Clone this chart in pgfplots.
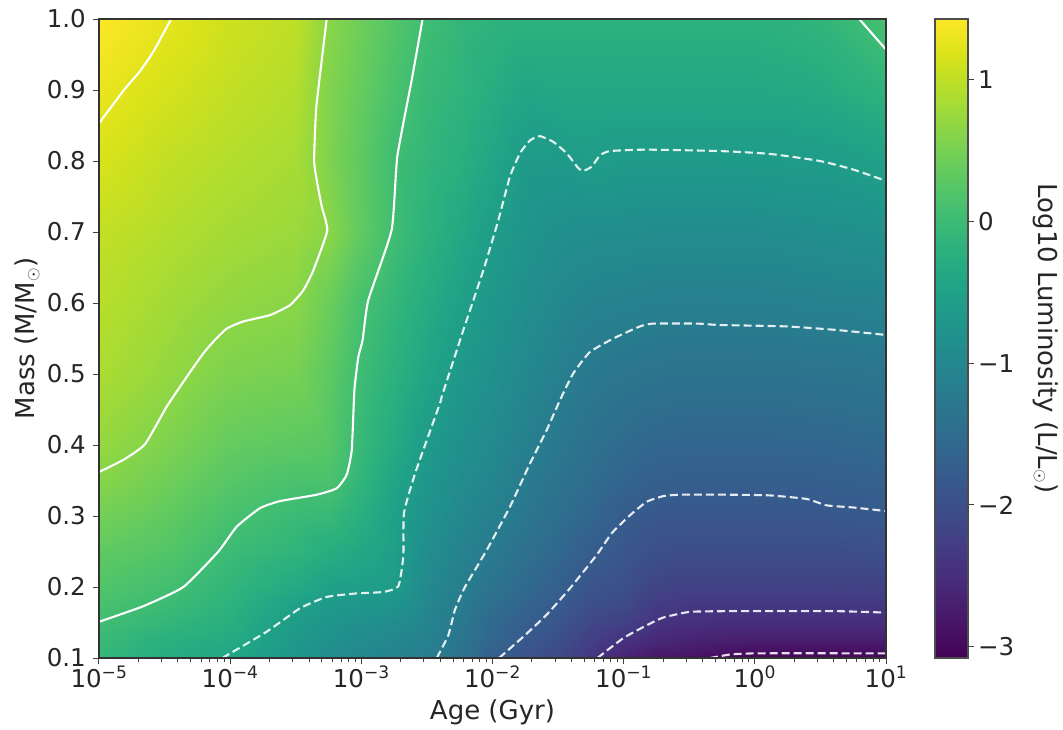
\documentclass[border=0pt]{standalone}
\usepackage{fontspec}
\setmainfont{DejaVu Sans}
\usepackage{pgfplots}
\pgfplotsset{compat=1.18}
\pgfplotsset{
  solidc/.style={white,line width=2.1pt,solid,line join=round,smooth,tension=0.3},
  dashc/.style={white,line width=2.1pt,dash pattern=on 8pt off 4pt,line join=round,smooth,tension=0.3,opacity=0.88},
}
\begin{document}
\begin{tikzpicture}
\useasboundingbox (-99pt,-71pt) rectangle (964pt,658pt);
\begin{axis}[
  at={(0pt,0pt)},anchor=south west,
  scale only axis,width=787pt,height=639pt,
  xmin=-5,xmax=1,ymin=0.1,ymax=1,
  axis on top,
  axis line style={line width=1.1pt,black!80},
  tick align=outside,
  xtick pos=bottom,ytick pos=left,
  major tick length=6pt,minor tick length=3.5pt,
  every tick/.style={line width=1pt,black!75},
  xtick={-5,-4,-3,-2,-1,0,1},
  xticklabels={10\textsuperscript{−5},10\textsuperscript{−4},10\textsuperscript{−3},10\textsuperscript{−2},10\textsuperscript{−1},10\textsuperscript{0},10\textsuperscript{1}},
  minor xtick={-4.699,-4.523,-4.398,-4.301,-4.222,-4.155,-4.097,-4.046,
    -3.699,-3.523,-3.398,-3.301,-3.222,-3.155,-3.097,-3.046,
    -2.699,-2.523,-2.398,-2.301,-2.222,-2.155,-2.097,-2.046,
    -1.699,-1.523,-1.398,-1.301,-1.222,-1.155,-1.097,-1.046,
    -0.699,-0.523,-0.398,-0.301,-0.222,-0.155,-0.097,-0.046,
    0.301,0.477,0.602,0.699,0.778,0.845,0.903,0.954},
  ytick={0.1,0.2,0.3,0.4,0.5,0.6,0.7,0.8,0.9,1},
  yticklabels={0.1,0.2,0.3,0.4,0.5,0.6,0.7,0.8,0.9,1.0},
  ticklabel style={font=\fontsize{24.5}{28}\selectfont,text=black!85},
  xticklabel style={inner sep=1pt,yshift=-1pt},
  yticklabel style={inner sep=2pt,xshift=-5pt},
  xlabel={Age (Gyr)},
  ylabel={Mass (M/M$_\odot$)},
  every axis x label/.style={at={(axis description cs:0.5,0)},anchor=north,yshift=-38pt,font=\fontsize{26}{30}\selectfont,text=black!85},
  every axis y label/.style={at={(axis description cs:0,0.5)},rotate=90,anchor=south,yshift=56pt,font=\fontsize{26}{30}\selectfont,text=black!85},
  colormap/viridis,
  point meta min=-3.08,point meta max=1.43,
]
\addplot[surf,shader=interp,mesh/cols=19,point meta=explicit] coordinates {
(-5,0.1)[-.1] (-4.5,0.1)[-.3] (-4,0.1)[-.42] (-3.5,0.1)[-.72] (-3.25,0.1)[-.88] (-3,0.1)[-1.0] (-2.75,0.1)[-1.08] (-2.5,0.1)[-1.17] (-2.25,0.1)[-1.4] (-2,0.1)[-1.72] (-1.75,0.1)[-1.95] (-1.5,0.1)[-2.1] (-1.25,0.1)[-2.38] (-1,0.1)[-2.65] (-0.75,0.1)[-2.85] (-0.5,0.1)[-2.92] (0,0.1)[-3.08] (0.5,0.1)[-3.05] (1,0.1)[-3.0]
(-5,0.107)[-.07] (-4.5,0.107)[-.28] (-4,0.107)[-.4] (-3.5,0.107)[-.7] (-3.25,0.107)[-.86] (-3,0.107)[-.98] (-2.75,0.107)[-1.06] (-2.5,0.107)[-1.15] (-2.25,0.107)[-1.37] (-2,0.107)[-1.68] (-1.75,0.107)[-1.92] (-1.5,0.107)[-2.07] (-1.25,0.107)[-2.33] (-1,0.107)[-2.58] (-0.75,0.107)[-2.75] (-0.5,0.107)[-2.8] (0,0.107)[-2.95] (0.5,0.107)[-2.95] (1,0.107)[-2.95]
(-5,0.125)[-.02] (-4.5,0.125)[-.22] (-4,0.125)[-.33] (-3.5,0.125)[-.66] (-3.25,0.125)[-.8] (-3,0.125)[-.92] (-2.75,0.125)[-1.0] (-2.5,0.125)[-1.1] (-2.25,0.125)[-1.32] (-2,0.125)[-1.6] (-1.75,0.125)[-1.82] (-1.5,0.125)[-2.0] (-1.25,0.125)[-2.25] (-1,0.125)[-2.42] (-0.75,0.125)[-2.57] (-0.5,0.125)[-2.65] (0,0.125)[-2.72] (0.5,0.125)[-2.72] (1,0.125)[-2.72]
(-5,0.15)[.05] (-4.5,0.15)[-.1] (-4,0.15)[-.25] (-3.5,0.15)[-.62] (-3.25,0.15)[-.72] (-3,0.15)[-.82] (-2.75,0.15)[-.9] (-2.5,0.15)[-1.05] (-2.25,0.15)[-1.27] (-2,0.15)[-1.55] (-1.75,0.15)[-1.72] (-1.5,0.15)[-1.9] (-1.25,0.15)[-2.13] (-1,0.15)[-2.23] (-0.75,0.15)[-2.42] (-0.5,0.15)[-2.47] (0,0.15)[-2.5] (0.5,0.15)[-2.5] (1,0.15)[-2.5]
(-5,0.175)[.12] (-4.5,0.175)[0] (-4,0.175)[-.18] (-3.5,0.175)[-.52] (-3.25,0.175)[-.64] (-3,0.175)[-.7] (-2.75,0.175)[-.75] (-2.5,0.175)[-1.0] (-2.25,0.175)[-1.22] (-2,0.175)[-1.45] (-1.75,0.175)[-1.62] (-1.5,0.175)[-1.8] (-1.25,0.175)[-2.02] (-1,0.175)[-2.08] (-0.75,0.175)[-2.3] (-0.5,0.175)[-2.35] (0,0.175)[-2.35] (0.5,0.175)[-2.35] (1,0.175)[-2.35]
(-5,0.2)[.2] (-4.5,0.2)[.08] (-4,0.2)[-.12] (-3.5,0.2)[-.35] (-3.25,0.2)[-.52] (-3,0.2)[-.56] (-2.75,0.2)[-.6] (-2.5,0.2)[-.95] (-2.25,0.2)[-1.15] (-2,0.2)[-1.37] (-1.75,0.2)[-1.55] (-1.5,0.2)[-1.72] (-1.25,0.2)[-1.92] (-1,0.2)[-2.0] (-0.75,0.2)[-2.17] (-0.5,0.2)[-2.22] (0,0.2)[-2.22] (0.5,0.2)[-2.22] (1,0.2)[-2.2]
(-5,0.25)[.32] (-4.5,0.25)[.22] (-4,0.25)[0] (-3.5,0.25)[-.14] (-3.25,0.25)[-.28] (-3,0.25)[-.4] (-2.75,0.25)[-.55] (-2.5,0.25)[-.88] (-2.25,0.25)[-1.07] (-2,0.25)[-1.24] (-1.75,0.25)[-1.42] (-1.5,0.25)[-1.58] (-1.25,0.25)[-1.76] (-1,0.25)[-1.88] (-0.75,0.25)[-2.0] (-0.5,0.25)[-2.03] (0,0.25)[-2.03] (0.5,0.25)[-2.03] (1,0.25)[-2.0]
(-5,0.3)[.47] (-4.5,0.3)[.33] (-4,0.3)[.12] (-3.5,0.3)[-.02] (-3.25,0.3)[-.05] (-3,0.3)[-.26] (-2.75,0.3)[-.52] (-2.5,0.3)[-.78] (-2.25,0.3)[-.98] (-2,0.3)[-1.12] (-1.75,0.3)[-1.3] (-1.5,0.3)[-1.46] (-1.25,0.3)[-1.6] (-1,0.3)[-1.78] (-0.75,0.3)[-1.86] (-0.5,0.3)[-1.88] (0,0.3)[-1.88] (0.5,0.3)[-1.87] (1,0.3)[-1.82]
(-5,0.35)[.62] (-4.5,0.35)[.45] (-4,0.35)[.25] (-3.5,0.35)[.14] (-3.25,0.35)[.15] (-3,0.35)[-.12] (-2.75,0.35)[-.44] (-2.5,0.35)[-.7] (-2.25,0.35)[-.9] (-2,0.35)[-1.02] (-1.75,0.35)[-1.22] (-1.5,0.35)[-1.37] (-1.25,0.35)[-1.5] (-1,0.35)[-1.63] (-0.75,0.35)[-1.72] (-0.5,0.35)[-1.74] (0,0.35)[-1.74] (0.5,0.35)[-1.73] (1,0.35)[-1.68]
(-5,0.4)[.72] (-4.5,0.4)[.56] (-4,0.4)[.36] (-3.5,0.4)[.3] (-3.25,0.4)[.25] (-3,0.4)[-.05] (-2.75,0.4)[-.33] (-2.5,0.4)[-.62] (-2.25,0.4)[-.82] (-2,0.4)[-.95] (-1.75,0.4)[-1.12] (-1.5,0.4)[-1.28] (-1.25,0.4)[-1.42] (-1,0.4)[-1.52] (-0.75,0.4)[-1.6] (-0.5,0.4)[-1.62] (0,0.4)[-1.62] (0.5,0.4)[-1.6] (1,0.4)[-1.55]
(-5,0.5)[.87] (-4.5,0.5)[.72] (-4,0.5)[.55] (-3.5,0.5)[.5] (-3.25,0.5)[.3] (-3,0.5)[.02] (-2.75,0.5)[-.2] (-2.5,0.5)[-.44] (-2.25,0.5)[-.67] (-2,0.5)[-.82] (-1.75,0.5)[-.98] (-1.5,0.5)[-1.12] (-1.25,0.5)[-1.26] (-1,0.5)[-1.32] (-0.75,0.5)[-1.36] (-0.5,0.5)[-1.38] (0,0.5)[-1.38] (0.5,0.5)[-1.36] (1,0.5)[-1.33]
(-5,0.6)[.95] (-4.5,0.6)[.82] (-4,0.6)[.7] (-3.5,0.6)[.64] (-3.25,0.6)[.41] (-3,0.6)[.11] (-2.75,0.6)[-.09] (-2.5,0.6)[-.31] (-2.25,0.6)[-.52] (-2,0.6)[-.7] (-1.75,0.6)[-.85] (-1.5,0.6)[-.98] (-1.25,0.6)[-1.07] (-1,0.6)[-1.1] (-0.75,0.6)[-1.13] (-0.5,0.6)[-1.14] (0,0.6)[-1.13] (0.5,0.6)[-1.1] (1,0.6)[-1.07]
(-5,0.7)[1.03] (-4.5,0.7)[.92] (-4,0.7)[.82] (-3.5,0.7)[.76] (-3.25,0.7)[.64] (-3,0.7)[.33] (-2.75,0.7)[.04] (-2.5,0.7)[-.17] (-2.25,0.7)[-.37] (-2,0.7)[-.58] (-1.75,0.7)[-.74] (-1.5,0.7)[-.83] (-1.25,0.7)[-.87] (-1,0.7)[-.88] (-0.75,0.7)[-.9] (-0.5,0.7)[-.9] (0,0.7)[-.9] (0.5,0.7)[-.85] (1,0.7)[-.8]
(-5,0.8)[1.17] (-4.5,0.8)[1.02] (-4,0.8)[.92] (-3.5,0.8)[.84] (-3.25,0.8)[.56] (-3,0.8)[.31] (-2.75,0.8)[.03] (-2.5,0.8)[-.11] (-2.25,0.8)[-.24] (-2,0.8)[-.42] (-1.75,0.8)[-.63] (-1.5,0.8)[-.64] (-1.25,0.8)[-.58] (-1,0.8)[-.63] (-0.75,0.8)[-.63] (-0.5,0.8)[-.63] (0,0.8)[-.62] (0.5,0.8)[-.6] (1,0.8)[-.5]
(-5,0.9)[1.3] (-4.5,0.9)[1.15] (-4,0.9)[1.02] (-3.5,0.9)[.92] (-3.25,0.9)[.57] (-3,0.9)[.37] (-2.75,0.9)[.14] (-2.5,0.9)[-.05] (-2.25,0.9)[-.14] (-2,0.9)[-.28] (-1.75,0.9)[-.42] (-1.5,0.9)[-.38] (-1.25,0.9)[-.38] (-1,0.9)[-.38] (-0.75,0.9)[-.38] (-0.5,0.9)[-.38] (0,0.9)[-.38] (0.5,0.9)[-.33] (1,0.9)[-.15]
(-5,1)[1.43] (-4.5,1)[1.27] (-4,1)[1.1] (-3.5,1)[1.0] (-3.25,1)[.64] (-3,1)[.43] (-2.75,1)[.22] (-2.5,1)[.03] (-2.25,1)[-.1] (-2,1)[-.15] (-1.75,1)[-.2] (-1.5,1)[-.2] (-1.25,1)[-.2] (-1,1)[-.2] (-0.75,1)[-.2] (-0.5,1)[-.2] (0,1)[-.2] (0.5,1)[-.12] (1,1)[.12]
};
% level A
\addplot[solidc] coordinates {(-5,.853) (-4.81,.9) (-4.69,.926) (-4.586,.954) (-4.45,1)};
% level B
\addplot[solidc] coordinates {(-5,.362) (-4.815,.379) (-4.65,.401) (-4.484,.454) (-4.331,.496) (-4.205,.529) (-4.116,.548) (-4.026,.564) (-3.9,.574) (-3.696,.583) (-3.544,.597) (-3.442,.618) (-3.366,.646) (-3.26,.702) (-3.302,.736) (-3.34,.773) (-3.36,.801) (-3.345,.872) (-3.302,.942) (-3.264,1)};
% level C
\addplot[solidc] coordinates {(-5,.151) (-4.662,.173) (-4.357,.2) (-4.09,.25) (-3.95,.285) (-3.773,.311) (-3.62,.321) (-3.34,.33) (-3.188,.339) (-3.112,.358) (-3.073,.393) (-3.053,.477) (-3.023,.524) (-2.99,.548) (-2.947,.604) (-2.769,.703) (-2.726,.806) (-2.616,.914) (-2.533,1)};
\addplot[solidc] coordinates {(.796,1) (1,.957)};
% level D
\addplot[dashc] coordinates {(-4.06,.1) (-3.722,.137) (-3.468,.17) (-3.264,.186) (-3.035,.191) (-2.833,.193) (-2.718,.201) (-2.68,.243) (-2.675,.304) (-2.59,.36) (-2.4,.459) (-2.387,.468) (-2.222,.562) (-2.07,.646) (-1.955,.717) (-1.867,.778) (-1.79,.811) (-1.714,.829) (-1.638,.835) (-1.537,.827) (-1.435,.811) (-1.346,.79) (-1.308,.786) (-1.244,.792) (-1.18,.808) (-1.104,.814) (-.825,.816) (-.266,.814) (.115,.81) (.496,.8) (.75,.788) (1,.772)};
% level E
\addplot[dashc] coordinates {(-2.425,.1) (-2.337,.132) (-2.286,.168) (-2.21,.2) (-2.044,.252) (-1.867,.313) (-1.714,.374) (-1.587,.421) (-1.486,.463) (-1.384,.501) (-1.257,.531) (-1.079,.55) (-.876,.567) (-.775,.571) (-.443,.571) (-.265,.569) (.243,.567) (.624,.562) (1,.555)};
% level F
\addplot[dashc] coordinates {(-1.95,.1) (-1.765,.13) (-1.587,.161) (-1.41,.198) (-1.206,.245) (-1.09,.276) (-.952,.301) (-.825,.32) (-.698,.328) (-.57,.33) (-.19,.33) (.115,.329) (.395,.324) (.547,.315) (.75,.312) (1,.307)};
% level G
\addplot[dashc] coordinates {(-1.2,.1) (-1.003,.128) (-.825,.146) (-.698,.157) (-.494,.165) (-.19,.166) (.243,.166) (.624,.166) (1,.164)};
% level H
\addplot[dashc] coordinates {(-.342,.1) (-.19,.105) (-.139,.1056) (.04,.1066) (1,.1066)};
\end{axis}
% colour bar
\begin{axis}[
  at={(836pt,0pt)},anchor=south west,
  scale only axis,width=33pt,height=639pt,
  xmin=0,xmax=1,ymin=-3.08,ymax=1.43,
  axis on top,
  axis line style={line width=1.1pt,black!70},
  xtick=\empty,
  ytick={-3,-2,-1,0,1},
  yticklabels={−3,−2,−1,0,1},
  ytick pos=right,yticklabel pos=right,
  tick align=outside,major tick length=6pt,
  every tick/.style={line width=1pt,black!75},
  ticklabel style={font=\fontsize{24.5}{28}\selectfont,text=black!85},
  yticklabel style={inner sep=2pt,xshift=2pt},
  ylabel={Log10 Luminosity (L/L$_\odot$)},
  every axis y label/.style={at={(axis description cs:1,0.5)},rotate=-90,anchor=south,yshift=62pt,font=\fontsize{26}{30}\selectfont,text=black!85},
  colormap/viridis,
  point meta min=-3.08,point meta max=1.43,
]
\addplot[surf,shader=interp,mesh/cols=2,point meta=explicit] coordinates {
(0,-3.08)[-3.08] (1,-3.08)[-3.08]
(0,1.43)[1.43] (1,1.43)[1.43]
};
\end{axis}
\end{tikzpicture}
\end{document}
